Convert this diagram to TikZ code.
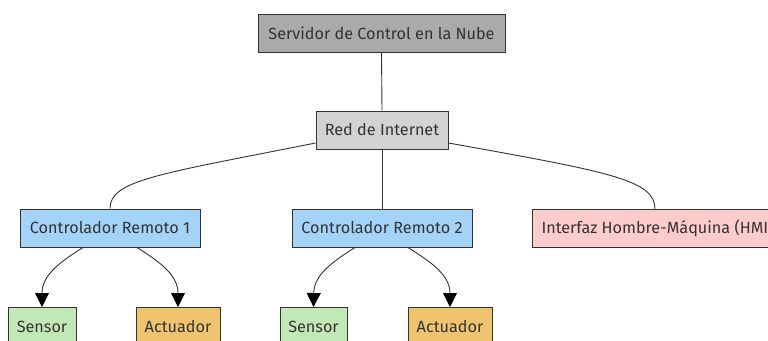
\documentclass[tikz,border=0pt]{standalone}
\usepackage{fontspec}
\setmainfont{Fira Sans}
\usetikzlibrary{arrows.meta}
\definecolor{txt}{HTML}{333333}
\definecolor{edge}{HTML}{333333}
\definecolor{cgray}{HTML}{AAAAAA}
\definecolor{clight}{HTML}{D3D3D3}
\definecolor{cblue}{HTML}{A3D3F8}
\definecolor{cpink}{HTML}{FFCCCC}
\definecolor{cgreen}{HTML}{C2E8B6}
\definecolor{corange}{HTML}{F0C36F}
\begin{document}
\begin{tikzpicture}[x=1pt,y=-1pt,
  box/.style={draw=edge,line width=1pt,text=txt,font=\fontsize{16.2}{18}\selectfont,inner xsep=0pt,inner ysep=0pt,minimum height=38pt},
  link/.style={draw=edge,line width=0.9pt},
  arr/.style={link,-{Triangle[length=14pt,width=14pt,color=black]}}]
\useasboundingbox (0,0) rectangle (768,340);
\clip (0,0) rectangle (768,340);
\fill[white] (0,0) rectangle (768,340);
\node[box,fill=cgray,minimum width=247pt] (srv) at (381.5,33) {Servidor de Control en la Nube};
\node[box,fill=clight,minimum width=132pt] (red) at (382,130) {Red de Internet};
\node[box,fill=cblue,minimum width=180pt] (c1) at (110,228) {Controlador Remoto 1};
\node[box,fill=cblue,minimum width=180pt] (c2) at (382,228) {Controlador Remoto 2};
\node[box,fill=cpink,inner xsep=9pt,anchor=west] (hmi) at (532,228) {Interfaz Hombre-Máquina (HMI)};
\node[box,fill=cgreen,minimum width=68pt,anchor=north] (s1) at (42,307) {Sensor};
\node[box,fill=corange,minimum width=84pt,anchor=north] (a1) at (178,307) {Actuador};
\node[box,fill=cgreen,minimum width=67pt,anchor=north] (s2) at (313.5,307) {Sensor};
\node[box,fill=corange,minimum width=84pt,anchor=north] (a2) at (450,307) {Actuador};
\draw[link] (srv.south) -- (red.north);
\draw[link] (red.south) -- (c2.north);
\draw[link] (red.west |- 0,143) .. controls (160,174) and (110,180) .. (c1.north);
\draw[link] (red.east |- 0,143) .. controls (610,172) and (655,180) .. (655,209);
\draw[arr] (c1.south -| 83,0) .. controls (60,262) and (42,275) .. (s1.north);
\draw[arr] (c1.south -| 137,0) .. controls (160,262) and (178,275) .. (a1.north);
\draw[arr] (c2.south -| 355,0) .. controls (332,262) and (314,275) .. (s2.north);
\draw[arr] (c2.south -| 408,0) .. controls (431,262) and (450,275) .. (a2.north);
\end{tikzpicture}
\end{document}
